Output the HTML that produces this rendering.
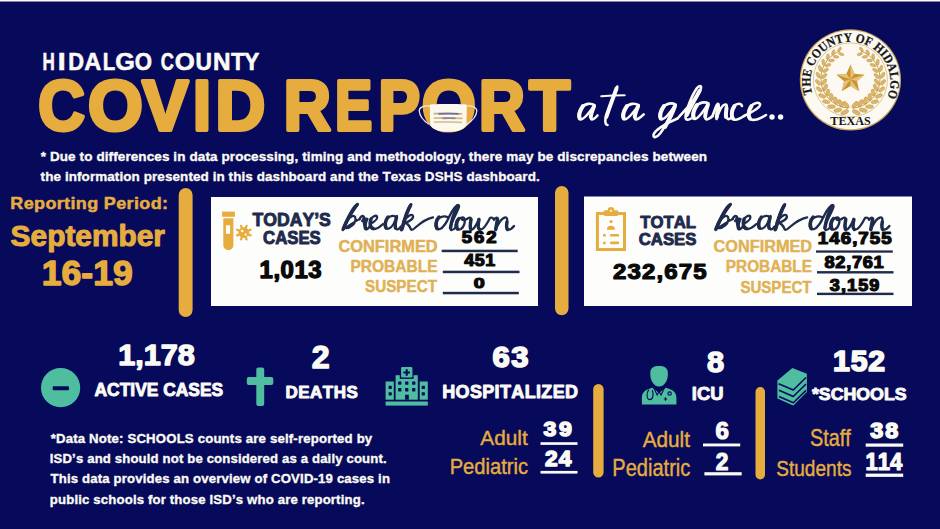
<!DOCTYPE html>
<html><head><meta charset="utf-8"><style>
html,body{margin:0;padding:0;background:#070a5a;width:940px;height:529px;overflow:hidden}
svg{display:block}
text{font-kerning:none;font-variant-ligatures:none}
</style></head><body>
<svg width="940" height="529" viewBox="0 0 940 529">
<rect width="940" height="529" fill="#070a5a"/>

<rect x="0" y="0" width="940" height="1.5" fill="#fdfdf8"/>
<!-- pills -->
<rect x="178.7" y="188" width="13.9" height="129" rx="6.95" fill="#e6ad3e"/>
<rect x="555" y="186" width="13.5" height="129.2" rx="6.75" fill="#e6ad3e"/>
<rect x="593.2" y="384" width="10.4" height="93.4" rx="5.2" fill="#e6ad3e"/>
<rect x="755.5" y="387" width="9.5" height="92.5" rx="4.75" fill="#e6ad3e"/>
<!-- boxes -->
<rect x="211" y="197" width="327" height="109" fill="#fdfdfb"/>
<rect x="584" y="196.5" width="328" height="109.5" fill="#fdfdfb"/>
<!-- underlines box1 -->
<rect x="441.7" y="249.7" width="76" height="2.5" fill="#1e2b4c"/>
<rect x="442.8" y="270.7" width="76.7" height="2.5" fill="#1e2b4c"/>
<rect x="442.8" y="291.8" width="76" height="2.5" fill="#1e2b4c"/>
<rect x="816" y="250.4" width="76.8" height="2.3" fill="#1e2b4c"/>
<rect x="817" y="271.1" width="76.5" height="2.4" fill="#1e2b4c"/>
<rect x="817" y="292.7" width="76.5" height="2.4" fill="#1e2b4c"/>
<!-- underlines substats -->
<rect x="540.5" y="442.2" width="37" height="2.7" fill="#fbfaf4"/>
<rect x="540.5" y="470.9" width="37" height="2.7" fill="#fbfaf4"/>
<rect x="703" y="443.5" width="37.2" height="2.9" fill="#fbfaf4"/>
<rect x="704.4" y="472.2" width="37.3" height="3.2" fill="#fbfaf4"/>
<rect x="865.7" y="443.5" width="37.5" height="3.2" fill="#fbfaf4"/>
<rect x="865.7" y="473.6" width="37.5" height="3.3" fill="#fbfaf4"/>
<!-- active cases icon -->
<circle cx="60.6" cy="387.7" r="19.6" fill="#4fbd9f"/>
<rect x="52.7" y="386.3" width="16.3" height="3.9" rx="1" fill="#070a5a"/>

<!-- test tube -->
<rect x="222.1" y="211.6" width="12.8" height="5.2" fill="#e6ad3e"/>
<path d="M223.3 218.2 H233.4 V245.3 A5.05 5.05 0 0 1 223.3 245.3 Z" fill="#e6ad3e"/>
<rect x="225.9" y="225.3" width="4.2" height="8.5" fill="#fdfdfb"/>
<g stroke="#e6ad3e" stroke-width="2.3" stroke-linecap="round"><line x1="247.50" y1="234.13" x2="250.54" y2="235.39"/><line x1="245.33" y1="236.30" x2="246.59" y2="239.34"/><line x1="242.27" y1="236.30" x2="241.01" y2="239.34"/><line x1="240.10" y1="234.13" x2="237.06" y2="235.39"/><line x1="240.10" y1="231.07" x2="237.06" y2="229.81"/><line x1="242.27" y1="228.90" x2="241.01" y2="225.86"/><line x1="245.33" y1="228.90" x2="246.59" y2="225.86"/><line x1="247.50" y1="231.07" x2="250.54" y2="229.81"/></g>
<circle cx="243.8" cy="232.6" r="5.3" fill="#e6ad3e"/>
<circle cx="242.2" cy="231" r="1.3" fill="#fdfdfb"/>
<circle cx="245.6" cy="234.6" r="1.1" fill="#fdfdfb"/>
<!-- clipboard -->
<rect x="597.4" y="213.5" width="27.1" height="36" fill="none" stroke="#e6ad3e" stroke-width="3"/>
<rect x="603.3" y="210.2" width="15.3" height="5.8" rx="2" fill="#e6ad3e"/>
<circle cx="611" cy="210.3" r="3.2" fill="#e6ad3e"/>
<circle cx="611" cy="210.8" r="1.1" fill="#fdfdfb"/>
<circle cx="611" cy="221.6" r="1.6" fill="#e6ad3e"/>
<path d="M606.9 229.8 A4.05 4.1 0 0 1 615 229.8 Z" fill="#e6ad3e"/>
<rect x="603.1" y="234" width="2.6" height="2.6" fill="#e6ad3e"/>
<rect x="610" y="233.9" width="9.1" height="2.7" rx="1.2" fill="#e6ad3e"/>
<rect x="603.1" y="241.7" width="2.6" height="2.6" fill="#e6ad3e"/>
<rect x="610" y="241.6" width="9.1" height="2.7" rx="1.2" fill="#e6ad3e"/>
<!-- hospital -->
<g fill="#4fbd9f">
<rect x="385.6" y="401.5" width="42.2" height="4.1"/>
<rect x="385.6" y="381.5" width="8.2" height="18.2"/>
<rect x="419.7" y="381.5" width="8.1" height="18.2"/>
<rect x="395.6" y="375.2" width="22.2" height="24.5"/>
</g>
<rect x="399.8" y="374.6" width="13.8" height="4.3" fill="#070a5a"/>
<rect x="401.1" y="366.9" width="11.3" height="10.5" rx="1.2" fill="#4fbd9f"/>
<g fill="#070a5a">
<rect x="405.7" y="369.2" width="2" height="6.6"/>
<rect x="403.4" y="371.5" width="6.6" height="2"/>
<rect x="398.1" y="381.4" width="3.3" height="3.3" rx="0.6"/>
<rect x="405.1" y="381.4" width="3.3" height="3.3" rx="0.6"/>
<rect x="412.1" y="381.4" width="3.3" height="3.3" rx="0.6"/>
<rect x="398.1" y="388.1" width="3.3" height="3.3" rx="0.6"/>
<rect x="405.1" y="388.1" width="3.3" height="3.3" rx="0.6"/>
<rect x="412.1" y="388.1" width="3.3" height="3.3" rx="0.6"/>
<rect x="388.6" y="385.8" width="3.2" height="3.2" rx="0.6"/>
<rect x="388.6" y="392.2" width="3.2" height="3.2" rx="0.6"/>
<rect x="421.7" y="385.8" width="3.2" height="3.2" rx="0.6"/>
<rect x="421.7" y="392.2" width="3.2" height="3.2" rx="0.6"/>
<rect x="405.1" y="394.7" width="3.7" height="5"/>
</g>
<!-- doctor -->
<path d="M650.3 373 C650.3 367.5 654 365.9 659.1 365.9 C664.2 365.9 667.9 367.5 667.9 373 C667.9 376 667.6 379 666.2 381.5 C664.6 384.5 662 386.6 659.1 386.6 C656.2 386.6 653.6 384.5 652 381.5 C650.6 379 650.3 376 650.3 373 Z" fill="#4fbd9f"/>
<path d="M641.9 404.5 V398 C641.9 392 645 390 652.5 387.8 L659.1 393 L665.7 387.8 C673.2 390 676.4 392 676.4 398 V404.5 Z" fill="#4fbd9f"/>
<g fill="none" stroke="#070a5a" stroke-width="1.1">
<path d="M653.8 388 L657.2 395 L659.1 391.5 L661 395 L664.4 388"/>
<path d="M648.8 389.6 C646.3 393 646.3 399.3 649.8 399.6 C653.3 399.6 653.8 394 652.3 390.2"/>
<circle cx="669.6" cy="393.6" r="1.7"/>
<path d="M665.5 397.3 V400.7 M663.8 399 H667.2"/>
</g>
<!-- books -->
<path d="M777.4 380.6 L792.4 367.9 L806.9 373.8 L806.9 392 L793.3 405.6 L777.4 398.6 Z" fill="#4fbd9f"/>
<g fill="none" stroke="#070a5a" stroke-width="1.6" stroke-linejoin="round">
<path d="M778.6 383.8 L793.3 390 L806 377.5"/>
<path d="M779 390.2 L793.3 396.5 L806 384"/>
<path d="M779 396.6 L793.3 402.8 L806 390.4"/>
</g>
<!-- seal -->
<circle cx="850.4" cy="79.9" r="50.6" fill="#c9a35a"/>
<circle cx="850.4" cy="79.9" r="49.4" fill="#fbf9f1"/>
<circle cx="850.4" cy="79.9" r="37" fill="none" stroke="#d4b77a" stroke-width="0.8"/>
<defs><path id="sealarc" d="M 812.3 93.8 A 40 40 0 1 1 888.5 93.8"/></defs>
<text font-family="'Liberation Serif', serif" font-weight="bold" font-size="12.8" fill="#151515" stroke="#151515" stroke-width="0.25"><textPath href="#sealarc" textLength="154" lengthAdjust="spacingAndGlyphs">THE COUNTY OF HIDALGO</textPath></text>
<text x="830.3" y="125.4" font-family="'Liberation Serif', serif" font-weight="bold" font-size="12.2" fill="#151515" textLength="40.5" lengthAdjust="spacingAndGlyphs">TEXAS</text>
<g fill="#dcb66a" stroke="#c49a46" stroke-width="0.5"><ellipse cx="844.72" cy="112.29" rx="4.20" ry="2.00" transform="rotate(-205.5 844.72 112.29)"/><ellipse cx="846.04" cy="104.81" rx="4.20" ry="2.00" transform="rotate(-129.5 846.04 104.81)"/><ellipse cx="837.80" cy="110.16" rx="4.08" ry="1.94" transform="rotate(-193.0 837.80 110.16)"/><ellipse cx="840.62" cy="103.35" rx="4.08" ry="1.94" transform="rotate(-117.0 840.62 103.35)"/><ellipse cx="831.53" cy="106.60" rx="3.96" ry="1.88" transform="rotate(-180.5 831.53 106.60)"/><ellipse cx="835.63" cy="100.73" rx="3.96" ry="1.88" transform="rotate(-104.5 835.63 100.73)"/><ellipse cx="826.19" cy="101.77" rx="3.83" ry="1.82" transform="rotate(-168.0 826.19 101.77)"/><ellipse cx="831.31" cy="97.09" rx="3.83" ry="1.82" transform="rotate(-92.0 831.31 97.09)"/><ellipse cx="822.05" cy="95.93" rx="3.71" ry="1.77" transform="rotate(-155.5 822.05 95.93)"/><ellipse cx="827.86" cy="92.57" rx="3.71" ry="1.77" transform="rotate(-79.5 827.86 92.57)"/><ellipse cx="819.27" cy="89.35" rx="3.59" ry="1.71" transform="rotate(-143.0 819.27 89.35)"/><ellipse cx="825.46" cy="87.39" rx="3.59" ry="1.71" transform="rotate(-67.0 825.46 87.39)"/><ellipse cx="817.99" cy="82.34" rx="3.46" ry="1.65" transform="rotate(-130.5 817.99 82.34)"/><ellipse cx="824.24" cy="81.80" rx="3.46" ry="1.65" transform="rotate(-54.5 824.24 81.80)"/><ellipse cx="818.25" cy="75.25" rx="3.34" ry="1.59" transform="rotate(-118.0 818.25 75.25)"/><ellipse cx="824.25" cy="76.04" rx="3.34" ry="1.59" transform="rotate(-42.0 824.25 76.04)"/><ellipse cx="820.04" cy="68.41" rx="3.22" ry="1.53" transform="rotate(-105.5 820.04 68.41)"/><ellipse cx="825.52" cy="70.41" rx="3.22" ry="1.53" transform="rotate(-29.5 825.52 70.41)"/><ellipse cx="823.26" cy="62.14" rx="3.10" ry="1.48" transform="rotate(-93.0 823.26 62.14)"/><ellipse cx="827.98" cy="65.16" rx="3.10" ry="1.48" transform="rotate(-17.0 827.98 65.16)"/><ellipse cx="827.74" cy="56.74" rx="2.97" ry="1.42" transform="rotate(-80.5 827.74 56.74)"/><ellipse cx="831.54" cy="60.54" rx="2.97" ry="1.42" transform="rotate(-4.5 831.54 60.54)"/><ellipse cx="833.26" cy="52.44" rx="2.85" ry="1.36" transform="rotate(-68.0 833.26 52.44)"/><ellipse cx="836.04" cy="56.80" rx="2.85" ry="1.36" transform="rotate(8.0 836.04 56.80)"/><ellipse cx="839.57" cy="49.46" rx="2.73" ry="1.30" transform="rotate(-55.5 839.57 49.46)"/><ellipse cx="841.26" cy="54.10" rx="2.73" ry="1.30" transform="rotate(20.5 841.26 54.10)"/><ellipse cx="856.28" cy="112.29" rx="4.20" ry="2.00" transform="rotate(25.5 856.28 112.29)"/><ellipse cx="854.96" cy="104.81" rx="4.20" ry="2.00" transform="rotate(-50.5 854.96 104.81)"/><ellipse cx="863.20" cy="110.16" rx="4.08" ry="1.94" transform="rotate(13.0 863.20 110.16)"/><ellipse cx="860.38" cy="103.35" rx="4.08" ry="1.94" transform="rotate(-63.0 860.38 103.35)"/><ellipse cx="869.47" cy="106.60" rx="3.96" ry="1.88" transform="rotate(0.5 869.47 106.60)"/><ellipse cx="865.37" cy="100.73" rx="3.96" ry="1.88" transform="rotate(-75.5 865.37 100.73)"/><ellipse cx="874.81" cy="101.77" rx="3.83" ry="1.82" transform="rotate(-12.0 874.81 101.77)"/><ellipse cx="869.69" cy="97.09" rx="3.83" ry="1.82" transform="rotate(-88.0 869.69 97.09)"/><ellipse cx="878.95" cy="95.93" rx="3.71" ry="1.77" transform="rotate(-24.5 878.95 95.93)"/><ellipse cx="873.14" cy="92.57" rx="3.71" ry="1.77" transform="rotate(-100.5 873.14 92.57)"/><ellipse cx="881.73" cy="89.35" rx="3.59" ry="1.71" transform="rotate(-37.0 881.73 89.35)"/><ellipse cx="875.54" cy="87.39" rx="3.59" ry="1.71" transform="rotate(-113.0 875.54 87.39)"/><ellipse cx="883.01" cy="82.34" rx="3.46" ry="1.65" transform="rotate(-49.5 883.01 82.34)"/><ellipse cx="876.76" cy="81.80" rx="3.46" ry="1.65" transform="rotate(-125.5 876.76 81.80)"/><ellipse cx="882.75" cy="75.25" rx="3.34" ry="1.59" transform="rotate(-62.0 882.75 75.25)"/><ellipse cx="876.75" cy="76.04" rx="3.34" ry="1.59" transform="rotate(-138.0 876.75 76.04)"/><ellipse cx="880.96" cy="68.41" rx="3.22" ry="1.53" transform="rotate(-74.5 880.96 68.41)"/><ellipse cx="875.48" cy="70.41" rx="3.22" ry="1.53" transform="rotate(-150.5 875.48 70.41)"/><ellipse cx="877.74" cy="62.14" rx="3.10" ry="1.48" transform="rotate(-87.0 877.74 62.14)"/><ellipse cx="873.02" cy="65.16" rx="3.10" ry="1.48" transform="rotate(-163.0 873.02 65.16)"/><ellipse cx="873.26" cy="56.74" rx="2.97" ry="1.42" transform="rotate(-99.5 873.26 56.74)"/><ellipse cx="869.46" cy="60.54" rx="2.97" ry="1.42" transform="rotate(-175.5 869.46 60.54)"/><ellipse cx="867.74" cy="52.44" rx="2.85" ry="1.36" transform="rotate(-112.0 867.74 52.44)"/><ellipse cx="864.96" cy="56.80" rx="2.85" ry="1.36" transform="rotate(-188.0 864.96 56.80)"/><ellipse cx="861.43" cy="49.46" rx="2.73" ry="1.30" transform="rotate(-124.5 861.43 49.46)"/><ellipse cx="859.74" cy="54.10" rx="2.73" ry="1.30" transform="rotate(-200.5 859.74 54.10)"/></g><path d="M848 108 A29.5 29.5 0 0 1 840 51" fill="none" stroke="#c49a46" stroke-width="1"/><path d="M853 108 A29.5 29.5 0 0 0 861 51" fill="none" stroke="#c49a46" stroke-width="1"/>
<path d="M850.50 64.40 L854.50 73.70 L864.58 74.63 L856.97 81.30 L859.20 91.17 L850.50 86.00 L841.80 91.17 L844.03 81.30 L836.42 74.63 L846.50 73.70 Z" fill="#c8942c"/><path d="M850.5 79.2 L850.50 64.40 L854.50 73.70 Z" fill="#e6c27c"/><path d="M850.5 79.2 L864.58 74.63 L856.97 81.30 Z" fill="#e6c27c"/><path d="M850.5 79.2 L859.20 91.17 L850.50 86.00 Z" fill="#e6c27c"/><path d="M850.5 79.2 L841.80 91.17 L844.03 81.30 Z" fill="#e6c27c"/><path d="M850.5 79.2 L836.42 74.63 L846.50 73.70 Z" fill="#e6c27c"/>
<!-- cross -->
<rect x="256.3" y="367.5" width="7.9" height="38.5" rx="2" fill="#4fbd9f"/>
<rect x="246.8" y="377" width="26.5" height="8" rx="2" fill="#4fbd9f"/>

<text x="42.56" y="70.40" font-family='"Liberation Sans", sans-serif' font-size="24.71" font-weight="bold" font-style="normal" fill="#fbfaf4" textLength="12.28" lengthAdjust="spacingAndGlyphs"  stroke="#fbfaf4" stroke-width="0.6" stroke-linejoin="round" >H</text>
<text x="57.70" y="70.40" font-family='"Liberation Sans", sans-serif' font-size="24.71" font-weight="bold" font-style="normal" fill="#fbfaf4" textLength="7.91" lengthAdjust="spacingAndGlyphs"  stroke="#fbfaf4" stroke-width="0.6" stroke-linejoin="round" >I</text>
<text x="68.14" y="70.40" font-family='"Liberation Sans", sans-serif' font-size="24.71" font-weight="bold" font-style="normal" fill="#fbfaf4" textLength="15.78" lengthAdjust="spacingAndGlyphs"  stroke="#fbfaf4" stroke-width="0.6" stroke-linejoin="round" >D</text>
<text x="84.21" y="70.40" font-family='"Liberation Sans", sans-serif' font-size="24.71" font-weight="bold" font-style="normal" fill="#fbfaf4" textLength="17.01" lengthAdjust="spacingAndGlyphs"  stroke="#fbfaf4" stroke-width="0.6" stroke-linejoin="round" >A</text>
<text x="102.73" y="70.40" font-family='"Liberation Sans", sans-serif' font-size="24.71" font-weight="bold" font-style="normal" fill="#fbfaf4" textLength="12.50" lengthAdjust="spacingAndGlyphs"  stroke="#fbfaf4" stroke-width="0.6" stroke-linejoin="round" >L</text>
<text x="115.27" y="70.40" font-family='"Liberation Sans", sans-serif' font-size="24.71" font-weight="bold" font-style="normal" fill="#fbfaf4" textLength="19.60" lengthAdjust="spacingAndGlyphs"  stroke="#fbfaf4" stroke-width="0.6" stroke-linejoin="round" >G</text>
<text x="134.79" y="70.40" font-family='"Liberation Sans", sans-serif' font-size="24.71" font-weight="bold" font-style="normal" fill="#fbfaf4" textLength="17.24" lengthAdjust="spacingAndGlyphs"  stroke="#fbfaf4" stroke-width="0.6" stroke-linejoin="round" >O</text>
<text x="160.85" y="70.40" font-family='"Liberation Sans", sans-serif' font-size="24.71" font-weight="bold" font-style="normal" fill="#fbfaf4" textLength="13.14" lengthAdjust="spacingAndGlyphs"  stroke="#fbfaf4" stroke-width="0.6" stroke-linejoin="round" >C</text>
<text x="174.84" y="70.40" font-family='"Liberation Sans", sans-serif' font-size="24.71" font-weight="bold" font-style="normal" fill="#fbfaf4" textLength="20.04" lengthAdjust="spacingAndGlyphs"  stroke="#fbfaf4" stroke-width="0.6" stroke-linejoin="round" >O</text>
<text x="195.43" y="70.40" font-family='"Liberation Sans", sans-serif' font-size="24.71" font-weight="bold" font-style="normal" fill="#fbfaf4" textLength="16.46" lengthAdjust="spacingAndGlyphs"  stroke="#fbfaf4" stroke-width="0.6" stroke-linejoin="round" >U</text>
<text x="213.07" y="70.40" font-family='"Liberation Sans", sans-serif' font-size="24.71" font-weight="bold" font-style="normal" fill="#fbfaf4" textLength="17.57" lengthAdjust="spacingAndGlyphs"  stroke="#fbfaf4" stroke-width="0.6" stroke-linejoin="round" >N</text>
<text x="231.05" y="70.40" font-family='"Liberation Sans", sans-serif' font-size="24.71" font-weight="bold" font-style="normal" fill="#fbfaf4" textLength="13.69" lengthAdjust="spacingAndGlyphs"  stroke="#fbfaf4" stroke-width="0.6" stroke-linejoin="round" >T</text>
<text x="244.11" y="70.40" font-family='"Liberation Sans", sans-serif' font-size="24.71" font-weight="bold" font-style="normal" fill="#fbfaf4" textLength="15.36" lengthAdjust="spacingAndGlyphs"  stroke="#fbfaf4" stroke-width="0.6" stroke-linejoin="round" >Y</text>
<text x="38.15" y="129.70" font-family='"Liberation Sans", sans-serif' font-size="70.06" font-weight="bold" font-style="normal" fill="#e6ad3e" textLength="46.61" lengthAdjust="spacingAndGlyphs"  stroke="#e6ad3e" stroke-width="4" stroke-linejoin="round" >C</text>
<text x="88.11" y="129.70" font-family='"Liberation Sans", sans-serif' font-size="70.06" font-weight="bold" font-style="normal" fill="#e6ad3e" textLength="54.74" lengthAdjust="spacingAndGlyphs"  stroke="#e6ad3e" stroke-width="4" stroke-linejoin="round" >O</text>
<text x="142.33" y="129.70" font-family='"Liberation Sans", sans-serif' font-size="70.06" font-weight="bold" font-style="normal" fill="#e6ad3e" textLength="46.15" lengthAdjust="spacingAndGlyphs"  stroke="#e6ad3e" stroke-width="4" stroke-linejoin="round" >V</text>
<text x="192.98" y="129.70" font-family='"Liberation Sans", sans-serif' font-size="70.06" font-weight="bold" font-style="normal" fill="#e6ad3e" textLength="17.94" lengthAdjust="spacingAndGlyphs"  stroke="#e6ad3e" stroke-width="4" stroke-linejoin="round" >I</text>
<text x="215.40" y="129.70" font-family='"Liberation Sans", sans-serif' font-size="70.06" font-weight="bold" font-style="normal" fill="#e6ad3e" textLength="49.69" lengthAdjust="spacingAndGlyphs"  stroke="#e6ad3e" stroke-width="4" stroke-linejoin="round" >D</text>
<text x="283.84" y="129.70" font-family='"Liberation Sans", sans-serif' font-size="70.06" font-weight="bold" font-style="normal" fill="#e6ad3e" textLength="47.10" lengthAdjust="spacingAndGlyphs"  stroke="#e6ad3e" stroke-width="4" stroke-linejoin="round" >R</text>
<text x="334.97" y="129.70" font-family='"Liberation Sans", sans-serif' font-size="70.06" font-weight="bold" font-style="normal" fill="#e6ad3e" textLength="37.21" lengthAdjust="spacingAndGlyphs"  stroke="#e6ad3e" stroke-width="4" stroke-linejoin="round" >E</text>
<text x="378.44" y="129.70" font-family='"Liberation Sans", sans-serif' font-size="70.06" font-weight="bold" font-style="normal" fill="#e6ad3e" textLength="41.49" lengthAdjust="spacingAndGlyphs"  stroke="#e6ad3e" stroke-width="4" stroke-linejoin="round" >P</text>
<text x="421.74" y="129.70" font-family='"Liberation Sans", sans-serif' font-size="70.06" font-weight="bold" font-style="normal" fill="#e6ad3e" textLength="54.18" lengthAdjust="spacingAndGlyphs"  stroke="#e6ad3e" stroke-width="4" stroke-linejoin="round" >O</text>
<text x="479.05" y="129.70" font-family='"Liberation Sans", sans-serif' font-size="70.06" font-weight="bold" font-style="normal" fill="#e6ad3e" textLength="45.85" lengthAdjust="spacingAndGlyphs"  stroke="#e6ad3e" stroke-width="4" stroke-linejoin="round" >R</text>
<text x="529.15" y="129.70" font-family='"Liberation Sans", sans-serif' font-size="70.06" font-weight="bold" font-style="normal" fill="#e6ad3e" textLength="40.77" lengthAdjust="spacingAndGlyphs"  stroke="#e6ad3e" stroke-width="4" stroke-linejoin="round" >T</text>
<text x="40.12" y="160.52" font-family='"Liberation Sans", sans-serif' font-size="13.30" font-weight="bold" font-style="normal" fill="#fbfaf4" textLength="656.34" lengthAdjust="spacing" transform="scale(1.0152,1)" stroke="#fbfaf4" stroke-width="0.35" stroke-linejoin="round" >* Due to differences in data processing, timing and methodology, there may be discrepancies between</text>
<text x="40.11" y="180.82" font-family='"Liberation Sans", sans-serif' font-size="13.30" font-weight="bold" font-style="normal" fill="#fbfaf4" textLength="492.98" lengthAdjust="spacing" transform="scale(1.0125,1)" stroke="#fbfaf4" stroke-width="0.35" stroke-linejoin="round" >the information presented in this dashboard and the Texas DSHS dashboard.</text>
<text x="9.95" y="208.85" font-family='"Liberation Sans", sans-serif' font-size="17.30" font-weight="bold" font-style="normal" fill="#e6ad3e" textLength="151.57" lengthAdjust="spacing" transform="scale(1.0400,1)" stroke="#e6ad3e" stroke-width="0.5" stroke-linejoin="round" >Reporting Period:</text>
<text x="10.64" y="245.50" font-family='"Liberation Sans", sans-serif' font-size="28.78" font-weight="bold" font-style="normal" fill="#e6ad3e" textLength="154.31" lengthAdjust="spacingAndGlyphs"  stroke="#e6ad3e" stroke-width="1" stroke-linejoin="round" >September</text>
<text x="41.86" y="285.40" font-family='"Liberation Sans", sans-serif' font-size="34.30" font-weight="bold" font-style="normal" fill="#e6ad3e" textLength="90.75" lengthAdjust="spacingAndGlyphs"  stroke="#e6ad3e" stroke-width="1.4" stroke-linejoin="round" >16-19</text>
<text x="252.45" y="225.75" font-family='"Liberation Sans", sans-serif' font-size="18.17" font-weight="bold" font-style="normal" fill="#1e2b4c" textLength="78.39" lengthAdjust="spacingAndGlyphs"  stroke="#1e2b4c" stroke-width="0.9" stroke-linejoin="round" >TODAY’S</text>
<text x="263.06" y="244.25" font-family='"Liberation Sans", sans-serif' font-size="17.59" font-weight="bold" font-style="normal" fill="#1e2b4c" textLength="57.74" lengthAdjust="spacingAndGlyphs"  stroke="#1e2b4c" stroke-width="0.9" stroke-linejoin="round" >CASES</text>
<text x="338.45" y="251.58" font-family='"Liberation Sans", sans-serif' font-size="15.63" font-weight="bold" font-style="normal" fill="#e0b154" textLength="99.21" lengthAdjust="spacingAndGlyphs"  stroke="#e0b154" stroke-width="0.45" stroke-linejoin="round" >CONFIRMED</text>
<text x="350.39" y="271.67" font-family='"Liberation Sans", sans-serif' font-size="16.21" font-weight="bold" font-style="normal" fill="#e0b154" textLength="87.20" lengthAdjust="spacingAndGlyphs"  stroke="#e0b154" stroke-width="0.45" stroke-linejoin="round" >PROBABLE</text>
<text x="365.09" y="291.77" font-family='"Liberation Sans", sans-serif' font-size="16.79" font-weight="bold" font-style="normal" fill="#e0b154" textLength="71.85" lengthAdjust="spacingAndGlyphs"  stroke="#e0b154" stroke-width="0.45" stroke-linejoin="round" >SUSPECT</text>
<text x="402.34" y="243.40" font-family='"Liberation Sans", sans-serif' font-size="16.13" font-weight="bold" font-style="normal" fill="#0a0a0a" textLength="30.24" lengthAdjust="spacing" transform="scale(1.1479,1)" stroke="#0a0a0a" stroke-width="1.2" stroke-linejoin="round" >562</text>
<text x="446.55" y="266.40" font-family='"Liberation Sans", sans-serif' font-size="17.15" font-weight="bold" font-style="normal" fill="#0a0a0a" textLength="29.68" lengthAdjust="spacing" transform="scale(1.0398,1)" stroke="#0a0a0a" stroke-width="1.2" stroke-linejoin="round" >451</text>
<text x="473.82" y="287.60" font-family='"Liberation Sans", sans-serif' font-size="15.41" font-weight="bold" font-style="normal" fill="#0a0a0a" textLength="10.99" lengthAdjust="spacingAndGlyphs"  stroke="#0a0a0a" stroke-width="1.2" stroke-linejoin="round" >0</text>
<text x="250.49" y="278.05" font-family='"Liberation Sans", sans-serif' font-size="23.11" font-weight="bold" font-style="normal" fill="#0a0a0a" textLength="59.79" lengthAdjust="spacing" transform="scale(1.0365,1)" stroke="#0a0a0a" stroke-width="1.3" stroke-linejoin="round" >1,013</text>
<text x="640.26" y="227.55" font-family='"Liberation Sans", sans-serif' font-size="17.30" font-weight="bold" font-style="normal" fill="#1e2b4c" textLength="55.80" lengthAdjust="spacingAndGlyphs"  stroke="#1e2b4c" stroke-width="0.9" stroke-linejoin="round" >TOTAL</text>
<text x="638.76" y="245.25" font-family='"Liberation Sans", sans-serif' font-size="16.72" font-weight="bold" font-style="normal" fill="#1e2b4c" textLength="57.74" lengthAdjust="spacingAndGlyphs"  stroke="#1e2b4c" stroke-width="0.9" stroke-linejoin="round" >CASES</text>
<text x="564.12" y="278.90" font-family='"Liberation Sans", sans-serif' font-size="22.09" font-weight="bold" font-style="normal" fill="#0a0a0a" textLength="86.13" lengthAdjust="spacing" transform="scale(1.0868,1)" stroke="#0a0a0a" stroke-width="1.2" stroke-linejoin="round" >232,675</text>
<text x="713.56" y="252.18" font-family='"Liberation Sans", sans-serif' font-size="16.79" font-weight="bold" font-style="normal" fill="#e0b154" textLength="98.50" lengthAdjust="spacingAndGlyphs"  stroke="#e0b154" stroke-width="0.45" stroke-linejoin="round" >CONFIRMED</text>
<text x="725.80" y="272.47" font-family='"Liberation Sans", sans-serif' font-size="16.79" font-weight="bold" font-style="normal" fill="#e0b154" textLength="86.18" lengthAdjust="spacingAndGlyphs"  stroke="#e0b154" stroke-width="0.45" stroke-linejoin="round" >PROBABLE</text>
<text x="740.39" y="292.77" font-family='"Liberation Sans", sans-serif' font-size="16.50" font-weight="bold" font-style="normal" fill="#e0b154" textLength="71.15" lengthAdjust="spacingAndGlyphs"  stroke="#e0b154" stroke-width="0.45" stroke-linejoin="round" >SUSPECT</text>
<text x="742.42" y="243.90" font-family='"Liberation Sans", sans-serif' font-size="17.01" font-weight="bold" font-style="normal" fill="#0a0a0a" textLength="67.00" lengthAdjust="spacing" transform="scale(1.1016,1)" stroke="#0a0a0a" stroke-width="1.2" stroke-linejoin="round" >146,755</text>
<text x="774.37" y="267.60" font-family='"Liberation Sans", sans-serif' font-size="17.15" font-weight="bold" font-style="normal" fill="#0a0a0a" textLength="55.59" lengthAdjust="spacing" transform="scale(1.0648,1)" stroke="#0a0a0a" stroke-width="1.2" stroke-linejoin="round" >82,761</text>
<text x="748.56" y="291.20" font-family='"Liberation Sans", sans-serif' font-size="16.28" font-weight="bold" font-style="normal" fill="#0a0a0a" textLength="44.63" lengthAdjust="spacing" transform="scale(1.1086,1)" stroke="#0a0a0a" stroke-width="1.2" stroke-linejoin="round" >3,159</text>
<text x="118.27" y="365.30" font-family='"Liberation Sans", sans-serif' font-size="29.94" font-weight="bold" font-style="normal" fill="#fbfaf4" textLength="76.57" lengthAdjust="spacingAndGlyphs"  stroke="#fbfaf4" stroke-width="1.4" stroke-linejoin="round" >1,178</text>
<text x="94.52" y="396.25" font-family='"Liberation Sans", sans-serif' font-size="17.59" font-weight="bold" font-style="normal" fill="#fbfaf4" textLength="128.71" lengthAdjust="spacingAndGlyphs"  stroke="#fbfaf4" stroke-width="0.9" stroke-linejoin="round" >ACTIVE CASES</text>
<text x="311.88" y="367.60" font-family='"Liberation Sans", sans-serif' font-size="30.96" font-weight="bold" font-style="normal" fill="#fbfaf4" textLength="17.91" lengthAdjust="spacingAndGlyphs"  stroke="#fbfaf4" stroke-width="1.4" stroke-linejoin="round" >2</text>
<text x="274.08" y="398.05" font-family='"Liberation Sans", sans-serif' font-size="16.28" font-weight="bold" font-style="normal" fill="#fbfaf4" textLength="69.52" lengthAdjust="spacing" transform="scale(1.0414,1)" stroke="#fbfaf4" stroke-width="0.9" stroke-linejoin="round" >DEATHS</text>
<text x="468.53" y="367.45" font-family='"Liberation Sans", sans-serif' font-size="29.51" font-weight="bold" font-style="normal" fill="#fbfaf4" textLength="34.31" lengthAdjust="spacing" transform="scale(1.0510,1)" stroke="#fbfaf4" stroke-width="1.7" stroke-linejoin="round" >63</text>
<text x="428.99" y="398.05" font-family='"Liberation Sans", sans-serif' font-size="17.44" font-weight="bold" font-style="normal" fill="#fbfaf4" textLength="131.69" lengthAdjust="spacing" transform="scale(1.0309,1)" stroke="#fbfaf4" stroke-width="0.9" stroke-linejoin="round" >HOSPITALIZED</text>
<text x="707.12" y="372.10" font-family='"Liberation Sans", sans-serif' font-size="28.78" font-weight="bold" font-style="normal" fill="#fbfaf4" textLength="17.12" lengthAdjust="spacingAndGlyphs"  stroke="#fbfaf4" stroke-width="1.4" stroke-linejoin="round" >8</text>
<text x="691.82" y="399.85" font-family='"Liberation Sans", sans-serif' font-size="17.73" font-weight="bold" font-style="normal" fill="#fbfaf4" textLength="31.65" lengthAdjust="spacingAndGlyphs"  stroke="#fbfaf4" stroke-width="0.9" stroke-linejoin="round" >ICU</text>
<text x="800.09" y="371.15" font-family='"Liberation Sans", sans-serif' font-size="28.92" font-weight="bold" font-style="normal" fill="#fbfaf4" textLength="50.05" lengthAdjust="spacing" transform="scale(1.0411,1)" stroke="#fbfaf4" stroke-width="1.7" stroke-linejoin="round" >152</text>
<text x="811.90" y="399.65" font-family='"Liberation Sans", sans-serif' font-size="17.15" font-weight="bold" font-style="normal" fill="#fbfaf4" textLength="94.75" lengthAdjust="spacingAndGlyphs"  stroke="#fbfaf4" stroke-width="0.9" stroke-linejoin="round" >*SCHOOLS</text>
<text x="49.37" y="442.82" font-family='"Liberation Sans", sans-serif' font-size="12.86" font-weight="bold" font-style="normal" fill="#fbfaf4" textLength="313.55" lengthAdjust="spacing" transform="scale(1.0256,1)" stroke="#fbfaf4" stroke-width="0.35" stroke-linejoin="round" >*Data Note: SCHOOLS counts are self-reported by</text>
<text x="48.70" y="463.02" font-family='"Liberation Sans", sans-serif' font-size="12.86" font-weight="bold" font-style="normal" fill="#fbfaf4" textLength="329.42" lengthAdjust="spacing" transform="scale(1.0225,1)" stroke="#fbfaf4" stroke-width="0.35" stroke-linejoin="round" >ISD’s and should not be considered as a daily count.</text>
<text x="49.34" y="483.12" font-family='"Liberation Sans", sans-serif' font-size="12.86" font-weight="bold" font-style="normal" fill="#fbfaf4" textLength="331.44" lengthAdjust="spacing" transform="scale(1.0241,1)" stroke="#fbfaf4" stroke-width="0.35" stroke-linejoin="round" >This data provides an overview of COVID-19 cases in</text>
<text x="48.63" y="503.62" font-family='"Liberation Sans", sans-serif' font-size="12.86" font-weight="bold" font-style="normal" fill="#fbfaf4" textLength="307.27" lengthAdjust="spacing" transform="scale(1.0243,1)" stroke="#fbfaf4" stroke-width="0.35" stroke-linejoin="round" >public schools for those ISD’s who are reporting.</text>
<text x="480.36" y="444.70" font-family='"Liberation Sans", sans-serif' font-size="20.93" font-weight="normal" font-style="normal" fill="#e6ad3e" textLength="47.29" lengthAdjust="spacingAndGlyphs"  stroke="#e6ad3e" stroke-width="0.4" stroke-linejoin="round" >Adult</text>
<text x="449.65" y="474.00" font-family='"Liberation Sans", sans-serif' font-size="21.80" font-weight="normal" font-style="normal" fill="#e6ad3e" textLength="78.38" lengthAdjust="spacingAndGlyphs"  stroke="#e6ad3e" stroke-width="0.4" stroke-linejoin="round" >Pediatric</text>
<text x="486.68" y="436.45" font-family='"Liberation Sans", sans-serif' font-size="20.64" font-weight="bold" font-style="normal" fill="#fbfaf4" textLength="25.23" lengthAdjust="spacing" transform="scale(1.1170,1)" stroke="#fbfaf4" stroke-width="1.5" stroke-linejoin="round" >39</text>
<text x="517.66" y="465.75" font-family='"Liberation Sans", sans-serif' font-size="21.51" font-weight="bold" font-style="normal" fill="#fbfaf4" textLength="25.08" lengthAdjust="spacing" transform="scale(1.0527,1)" stroke="#fbfaf4" stroke-width="1.5" stroke-linejoin="round" >24</text>
<text x="642.66" y="446.60" font-family='"Liberation Sans", sans-serif' font-size="21.80" font-weight="normal" font-style="normal" fill="#e6ad3e" textLength="47.29" lengthAdjust="spacingAndGlyphs"  stroke="#e6ad3e" stroke-width="0.4" stroke-linejoin="round" >Adult</text>
<text x="612.36" y="475.80" font-family='"Liberation Sans", sans-serif' font-size="23.55" font-weight="normal" font-style="normal" fill="#e6ad3e" textLength="77.97" lengthAdjust="spacingAndGlyphs"  stroke="#e6ad3e" stroke-width="0.4" stroke-linejoin="round" >Pediatric</text>
<text x="715.62" y="439.10" font-family='"Liberation Sans", sans-serif' font-size="23.40" font-weight="bold" font-style="normal" fill="#fbfaf4" textLength="13.35" lengthAdjust="spacingAndGlyphs"  stroke="#fbfaf4" stroke-width="1.2" stroke-linejoin="round" >6</text>
<text x="715.72" y="470.40" font-family='"Liberation Sans", sans-serif' font-size="23.40" font-weight="bold" font-style="normal" fill="#fbfaf4" textLength="12.59" lengthAdjust="spacingAndGlyphs"  stroke="#fbfaf4" stroke-width="1.2" stroke-linejoin="round" >2</text>
<text x="810.00" y="446.20" font-family='"Liberation Sans", sans-serif' font-size="23.11" font-weight="normal" font-style="normal" fill="#e6ad3e" textLength="40.77" lengthAdjust="spacingAndGlyphs"  stroke="#e6ad3e" stroke-width="0.4" stroke-linejoin="round" >Staff</text>
<text x="776.23" y="475.80" font-family='"Liberation Sans", sans-serif' font-size="22.38" font-weight="normal" font-style="normal" fill="#e6ad3e" textLength="75.25" lengthAdjust="spacingAndGlyphs"  stroke="#e6ad3e" stroke-width="0.4" stroke-linejoin="round" >Students</text>
<text x="801.22" y="437.95" font-family='"Liberation Sans", sans-serif' font-size="21.51" font-weight="bold" font-style="normal" fill="#fbfaf4" textLength="25.74" lengthAdjust="spacing" transform="scale(1.0862,1)" stroke="#fbfaf4" stroke-width="1.5" stroke-linejoin="round" >38</text>
<text x="865.51" y="470.40" font-family='"Liberation Sans", sans-serif' font-size="23.40" font-weight="bold" font-style="normal" fill="#fbfaf4" textLength="36.70" lengthAdjust="spacingAndGlyphs"  stroke="#fbfaf4" stroke-width="1.2" stroke-linejoin="round" >114</text>

<g fill="none" stroke="#fbfaf4" stroke-width="2.6" stroke-linecap="round" stroke-linejoin="round">
<path d="M594.6 105.2 C591 103 585 103 581.5 108 C578 113 577.5 118.5 580.5 119.3 C583.5 120 589 113 594.6 105.2 C592.5 110 590 116.5 591 118.8 C592 120.5 595 118.5 597.5 115.5"/>
<path d="M617.3 86.5 C613 98 607.5 112 605.5 119 C604.8 122.5 605.8 124.8 607.5 125"/>
<path d="M601.3 96.3 C609 95.6 617 95.2 624.7 95.2" stroke-width="2"/>
<path d="M638.8 105.2 C635 103 629 103 625.5 108 C622 113 621.5 118.5 624.5 119.3 C627.5 120 633 113 638.8 105.2 C636.5 110 634 116.5 635 118.8 C636 120.5 639.5 118.5 643.7 114.4"/>
<path d="M675.7 104.6 C672 102.5 666 103 662.5 108 C659 113 658.5 118.5 661.5 119.3 C664.5 120 670 113 675.7 104.6 C672 113 666 126 660.5 133 C657 137.5 653 138.5 653.5 135 C654 131 664 124 677.5 118.5"/>
<path d="M677.5 118.5 C685 110 700 95 701 88 C701.5 85 699 85.5 697 88 C692 95 686 110 685.5 117 C685.5 120 688 120.5 691 118.5"/>
<path d="M708.5 103.5 C705 101.5 699 102 695.5 107 C692 112 691.5 118 694.5 119 C697.5 119.8 703 112 708.5 103.5 C706.5 109 704.5 116.5 705.5 118.8 C706.5 120.3 710 118.5 712.5 116"/>
<path d="M712.5 116 C714.5 111 716 105 717.5 104 C718.5 103.5 719 105 718.5 107 L716.5 119 C719 111 722 105 725 104.5 C727 104 727 106.5 726.5 109 C726 113 725.5 118 728 119 C730 119.5 731 118 732 117"/>
<path d="M742 106 C741 103 737 103 734 106 C730.5 110 730 118 734 119.5 C737 120.5 741 118 744 116"/>
<path d="M744 116 C754 111 761 107 760 104 C759 102 754 102.5 751 106 C747.5 110 747 118 751 119.5 C755 121 761 118 766 115"/>
</g>
<g fill="none" stroke="#fbfaf4" stroke-width="4" stroke-linecap="round">
<path d="M594 106.5 C592.5 110 591 114 590.8 117"/>
<path d="M616.5 88.5 C613 98 608.5 110 606.3 117"/>
<path d="M638 106.5 C636.5 110 635 114 634.8 117"/>
<path d="M675 106 C672.5 113 669 120 665 127"/>
<path d="M699.5 91 C695 99 690 108 686.8 115"/>
<path d="M707.8 105 C706.5 109 705.3 113 705.2 116.5"/>
<path d="M718 106.5 L716.8 117"/>
<path d="M726.5 108 C726 112 725.7 115 726 117"/>
<path d="M734.5 106 C731.5 110 731 116 733 118.5"/>
<path d="M751.5 106 C748.5 110 748 116 750 118.5"/>
<path d="M583 106 C579.5 111 578.8 116 579.8 118.5"/>
<path d="M627 106 C623.5 111 622.8 116 623.8 118.5"/>
<path d="M664 106 C660.5 111 659.8 116 660.8 118.5"/>
<path d="M697 105 C693.5 110 692.8 115 693.8 117.8"/>
</g>
<circle cx="772" cy="117" r="2.7" fill="#fbfaf4"/>
<circle cx="780.6" cy="117" r="2.7" fill="#fbfaf4"/>

<g transform="translate(0.000,0) scale(1.0000,1)" fill="none" stroke="#1e2b4c" stroke-width="2.3" stroke-linecap="round" stroke-linejoin="round">
<path d="M357.5 204.5 C354 206 347 220 343 229.5" stroke-width="3.2"/>
<path d="M344.5 225 C348 217 355 213 355.5 218.5 C356 224 349 229 345.5 228 C349 226 355 221 360 219"/>
<path d="M359.5 219 C361 216 363 215 364 217 C364.5 219 363 220 362 221 C364 219 366 218 367.5 219 C366 222 365 226 365.5 229 C366 230 368 229 370 226"/>
<path d="M370 224 C374 222 378 219 377 216.5 C376 215 372 216 370.5 220 C369 225 371 229.5 374.5 229 C378 228.5 381 226 383 224"/>
<path d="M396 217 C393 214.5 387 216 385 223 C384 227 386 229.5 389 228.5 C392 227.5 395 222 397 216 C395 222 394 227 396.5 229 C398 230 400 228 401 226.5"/>
<path d="M411 204.5 C408 208 404 220 401.5 230" stroke-width="3"/>
<path d="M403 222 C406 217 412 213 413 216 C414 219 408 222 404.5 223 C408 223 410 227 411 229.5 C412 230.5 414 229 416 227 C421 222.5 427 218.5 433 217.3"/>
<path d="M448 217.5 C444 215 437 217 435.5 224 C435 228 437 230 440 229 C443 228 447 222 449 217"/>
<path d="M449 217 C452 211 456 205 458.5 205 C460 205.5 458 210 455 216 C452 222 449 228 451 230 C453 231 455 228 457 226"/>
<path d="M462 218 C459 217 456 220 455.5 225 C455 229 458 230.5 461 229 C464 227 466 221 464 218 C463 217 461 217.5 462 219.5 C463 220.5 465 220 467 219"/>
<path d="M467 219 C469 217 471 217 471 219.5 C470.5 223 469 227 471 229.5 C473 230.5 476 226 479 219 C478 224 477.5 228.5 480 229.5 C483 230 487 224 490 218 C491 217 493 218 494 219.5"/>
<path d="M494 219.5 C496 217 497.5 217 497.5 219 C497 223 496 227 495.5 230 C498 224 502 218 505 217.5 C507 217 507.5 219 507 222 C506.5 225 506 228.5 508 229.5 C510 230 512.5 228 514 226"/>
<g stroke-width="3.5">
<path d="M356.5 205.5 C353 210 347 220 343.5 228.5"/>
<path d="M371 219 C369.5 223 370 227.5 373 228.5"/>
<path d="M388 217 C385.5 220 384.5 225 386 228"/>
<path d="M396.5 217.5 C395.5 221 394.5 225 395.5 228"/>
<path d="M410.5 205.5 C408 210 404.5 220 402 229"/>
<path d="M439 217 C436 220 435.3 225 437 228.5"/>
<path d="M457.5 206 C455 211 451.5 221 450.5 228"/>
<path d="M459 218.5 C456.5 221 455.8 226 457.5 229"/>
<path d="M471 219.5 C470.5 223 469.5 227 471 229.5"/>
<path d="M479 219.5 C478 224 477.5 228 479.5 229.5"/>
<path d="M497.5 219 C497 223 496 227 495.7 229.5"/>
<path d="M507 222 C506.5 225 506 228 507.5 229.5"/>
<path d="M364 218.5 C364 222 365 226 365.5 228.5"/>
</g>
</g>
<g transform="translate(367.331,0) scale(1.0157,1)" fill="none" stroke="#1e2b4c" stroke-width="2.3" stroke-linecap="round" stroke-linejoin="round">
<path d="M357.5 204.5 C354 206 347 220 343 229.5" stroke-width="3.2"/>
<path d="M344.5 225 C348 217 355 213 355.5 218.5 C356 224 349 229 345.5 228 C349 226 355 221 360 219"/>
<path d="M359.5 219 C361 216 363 215 364 217 C364.5 219 363 220 362 221 C364 219 366 218 367.5 219 C366 222 365 226 365.5 229 C366 230 368 229 370 226"/>
<path d="M370 224 C374 222 378 219 377 216.5 C376 215 372 216 370.5 220 C369 225 371 229.5 374.5 229 C378 228.5 381 226 383 224"/>
<path d="M396 217 C393 214.5 387 216 385 223 C384 227 386 229.5 389 228.5 C392 227.5 395 222 397 216 C395 222 394 227 396.5 229 C398 230 400 228 401 226.5"/>
<path d="M411 204.5 C408 208 404 220 401.5 230" stroke-width="3"/>
<path d="M403 222 C406 217 412 213 413 216 C414 219 408 222 404.5 223 C408 223 410 227 411 229.5 C412 230.5 414 229 416 227 C421 222.5 427 218.5 433 217.3"/>
<path d="M448 217.5 C444 215 437 217 435.5 224 C435 228 437 230 440 229 C443 228 447 222 449 217"/>
<path d="M449 217 C452 211 456 205 458.5 205 C460 205.5 458 210 455 216 C452 222 449 228 451 230 C453 231 455 228 457 226"/>
<path d="M462 218 C459 217 456 220 455.5 225 C455 229 458 230.5 461 229 C464 227 466 221 464 218 C463 217 461 217.5 462 219.5 C463 220.5 465 220 467 219"/>
<path d="M467 219 C469 217 471 217 471 219.5 C470.5 223 469 227 471 229.5 C473 230.5 476 226 479 219 C478 224 477.5 228.5 480 229.5 C483 230 487 224 490 218 C491 217 493 218 494 219.5"/>
<path d="M494 219.5 C496 217 497.5 217 497.5 219 C497 223 496 227 495.5 230 C498 224 502 218 505 217.5 C507 217 507.5 219 507 222 C506.5 225 506 228.5 508 229.5 C510 230 512.5 228 514 226"/>
<g stroke-width="3.5">
<path d="M356.5 205.5 C353 210 347 220 343.5 228.5"/>
<path d="M371 219 C369.5 223 370 227.5 373 228.5"/>
<path d="M388 217 C385.5 220 384.5 225 386 228"/>
<path d="M396.5 217.5 C395.5 221 394.5 225 395.5 228"/>
<path d="M410.5 205.5 C408 210 404.5 220 402 229"/>
<path d="M439 217 C436 220 435.3 225 437 228.5"/>
<path d="M457.5 206 C455 211 451.5 221 450.5 228"/>
<path d="M459 218.5 C456.5 221 455.8 226 457.5 229"/>
<path d="M471 219.5 C470.5 223 469.5 227 471 229.5"/>
<path d="M479 219.5 C478 224 477.5 228 479.5 229.5"/>
<path d="M497.5 219 C497 223 496 227 495.7 229.5"/>
<path d="M507 222 C506.5 225 506 228 507.5 229.5"/>
<path d="M364 218.5 C364 222 365 226 365.5 228.5"/>
</g>
</g>
<!-- mask -->
<g fill="none" stroke="#e9e6f2" stroke-width="1.3">
<path d="M430 106 C424 105.5 419 107 419.3 111 C419.6 116 424 121 429 124.2"/>
<path d="M466.5 106 C472.5 105.5 477 107.5 476.8 111 C476.5 116 472 121 466.5 124.6"/>
</g>
<path d="M431.5 104.3 C442 103.8 455 103.8 465.2 104.3 C466.4 104.4 466.8 105 466.8 106.5 L466.5 124 C466.2 128.5 459 131.8 448.3 131.8 C437.5 131.8 430.5 128.5 430.2 124 L429.8 106.5 C429.8 105 430.2 104.4 431.5 104.3 Z" fill="#fbf8ef"/>
<g fill="none" stroke-width="1.7" stroke-linecap="round">
<path d="M434.2 113.6 C443 113.2 453 113.2 461.5 113.8" stroke="#c4b08a"/>
<path d="M439 113.9 C446 113.6 452 113.6 458 113.9" stroke="#6f7199"/>
<path d="M434.5 118.2 C443 117.8 453 117.8 462 118.4" stroke="#d3b980"/>
<path d="M443 118.3 C447 118.1 451 118.1 455 118.3" stroke="#8d87a0"/>
<path d="M434.5 122.2 C443 121.8 453 121.8 461.5 122.4" stroke="#dcc190"/>
</g>

</svg>
</body></html>
